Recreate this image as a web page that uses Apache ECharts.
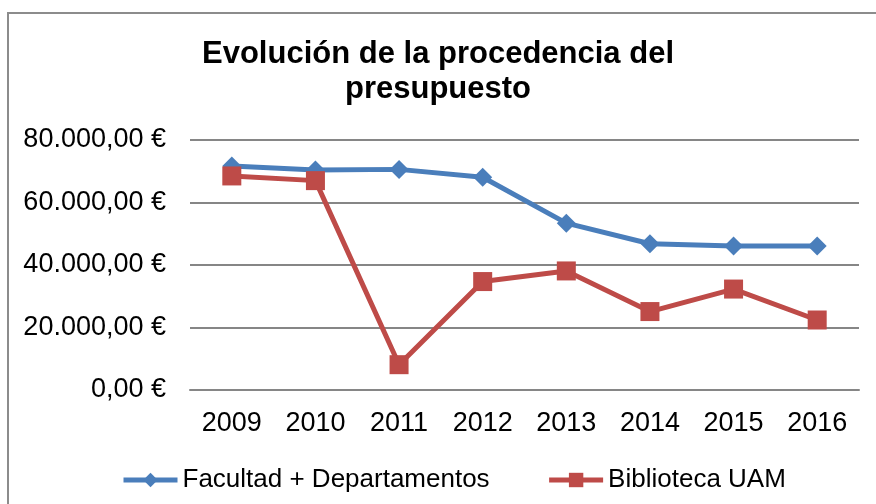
<!DOCTYPE html>
<html><head><meta charset="utf-8">
<script src="https://cdn.jsdelivr.net/npm/echarts@6/dist/echarts.min.js"></script>
<style>html,body{margin:0;padding:0;background:#fff}#c{width:876px;height:504px}</style>
</head><body><div id="c"></div>
<script>
var titleText = 'Evolución de la procedencia del\npresupuesto';
var years = ['2009','2010','2011','2012','2013','2014','2015','2016'];
var facultad = [71700, 70400, 70600, 68100, 53400, 46800, 46100, 46100];
var biblioteca = [68500, 67000, 8100, 34700, 38100, 25100, 32300, 22400];
var seriesNames = ['Facultad + Departamentos', 'Biblioteca UAM'];

function fmtEuro(v){
  var s = Math.round(v).toString();
  s = s.replace(/\B(?=(\d{3})+(?!\d))/g, '.');
  return s + ',00 €';
}

var chart = echarts.init(document.getElementById('c'), null, {renderer:'canvas'});
chart.setOption({
  backgroundColor:'#fff',
  animation:false,
  textStyle:{fontFamily:'Liberation Sans, Arial, sans-serif'},
  graphic:[{type:'rect', shape:{x:8, y:13, width:900, height:520}, style:{fill:'none', stroke:'#8c8c8c', lineWidth:2}, z:-1}],
  title:{text:titleText, left:'center', top:37, padding:0, textStyle:{fontSize:31, fontWeight:'bold', color:'#000', lineHeight:35, fontFamily:'Liberation Sans, Arial, sans-serif'}},
  legend:{left:121, top:467, padding:0, itemWidth:54, itemHeight:18, itemGap:57,
    lineStyle:{width:5},
    textStyle:{fontSize:26, color:'#000'}, data:seriesNames},
  grid:{left:190, right:17, top:140, bottom:114, containLabel:false},
  xAxis:{type:'category', data:years, boundaryGap:true,
    axisLine:{show:true, lineStyle:{color:'#868686', width:2}}, axisTick:{show:false},
    axisLabel:{fontSize:27, color:'#000', margin:20}},
  yAxis:{type:'value', min:0, max:80000, interval:20000,
    axisLine:{show:false}, axisTick:{show:false},
    splitLine:{lineStyle:{color:'#868686', width:2}},
    axisLabel:{fontSize:27, color:'#000', margin:24, formatter:fmtEuro}},
  series:[
    {name:seriesNames[0], type:'line', data:facultad, symbol:'diamond', symbolSize:19,
     lineStyle:{color:'#4a7ebb', width:5}, itemStyle:{color:'#4a7ebb'}},
    {name:seriesNames[1], type:'line', data:biblioteca, symbol:'rect', symbolSize:19,
     lineStyle:{color:'#be4b48', width:5}, itemStyle:{color:'#be4b48'}}
  ]
});
</script></body></html>
